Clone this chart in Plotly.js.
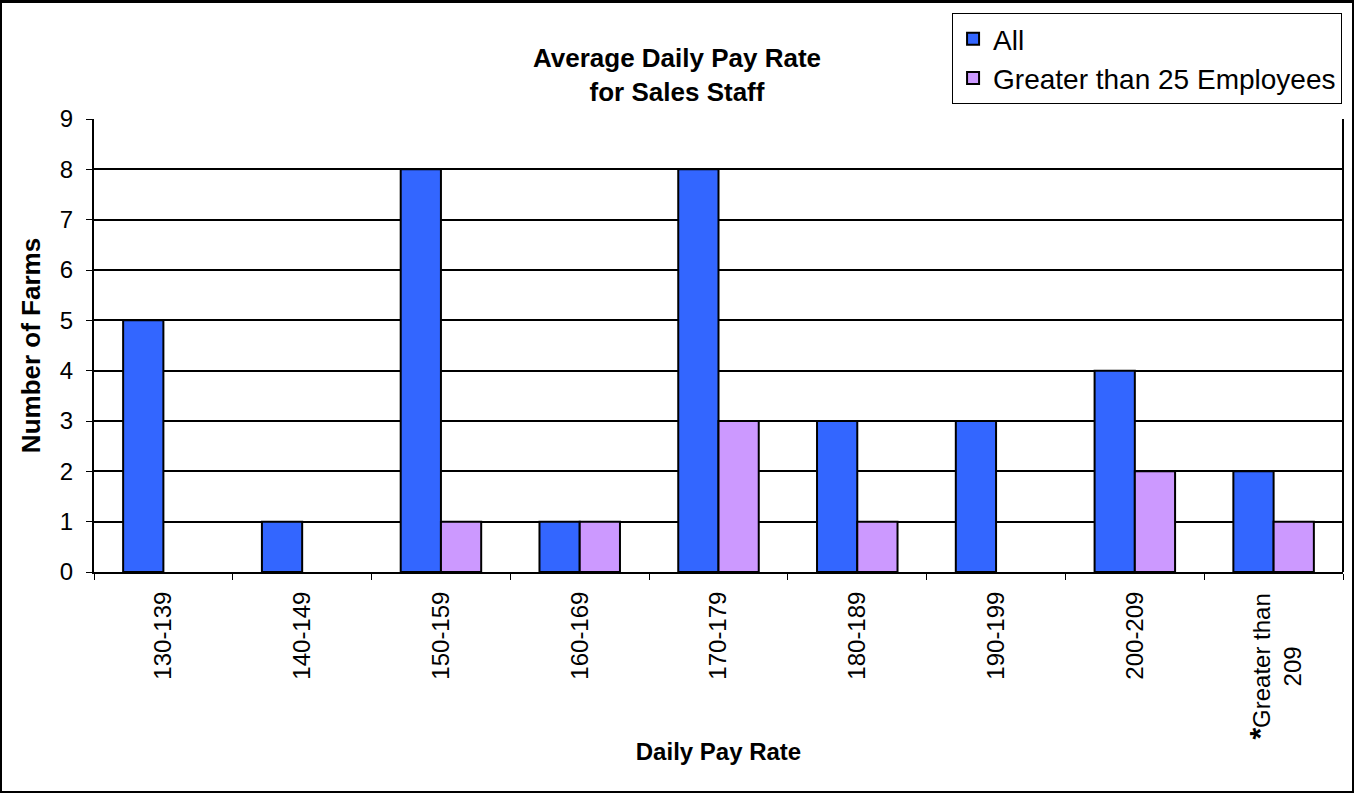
<!DOCTYPE html>
<html>
<head>
<meta charset="utf-8">
<script src="https://cdn.plot.ly/plotly-3.0.1.min.js"></script>
<style>
html,body{margin:0;padding:0;background:#fff;}
#chart{width:1354px;height:793px;box-sizing:border-box;border:2px solid #000;border-top-width:3px;}
</style>
</head>
<body>
<div id="chart"></div>
<script>
const categories = ["130-139","140-149","150-159","160-169","170-179","180-189","190-199","200-209","Greater than 209"];
const tickLabels = ["130-139","140-149","150-159","160-169","170-179","180-189","190-199","200-209","<span style='font-size:30px'><b>*</b></span>Greater than<br>209"];
const allFarms = [5,1,8,1,8,3,3,4,2];
const largeFarms = [0,0,1,1,3,1,0,2,1];
const seriesNames = ["All","Greater than 25 Employees"];

const font = "Arial, 'Liberation Sans', sans-serif";
const last = categories.length - 1;
const data = [
  {type:"bar", name:seriesNames[0], x:categories, y:allFarms,
   marker:{color:"#3366FF", line:{color:"#000", width:2}}},
  {type:"bar", name:seriesNames[1], x:categories, y:largeFarms.map(v=>v===0?null:v),
   marker:{color:"#CC99FF", line:{color:"#000", width:2}}}
];
const layout = {
  width:1350, height:788,
  margin:{l:92, r:9, t:116, b:219},
  paper_bgcolor:"#fff", plot_bgcolor:"#fff",
  font:{family:font, color:"#000", size:24},
  barmode:"group", bargap:0.42, bargroupgap:0,
  title:{text:"<b>Average Daily Pay Rate<br>for Sales Staff</b>", font:{size:26, family:font},
         x:0.5, xref:"container", y:1-64/788, yref:"container", yanchor:"middle"},
  xaxis:{type:"category", tickangle:-90, tickson:"boundaries", ticks:"outside", ticklen:6,
         tickcolor:"#000", showline:true, linecolor:"#000", linewidth:2, showgrid:false,
         tickvals:categories, ticktext:tickLabels.map((t,i)=>i===last?" ":t),
         tickfont:{size:24, family:font}, ticklabelstandoff:8,
         title:{text:"<b>Daily Pay Rate</b>", font:{size:24, family:font}, standoff:65}},
  yaxis:{range:[0,9], dtick:1, ticks:"outside", ticklen:6, tickcolor:"#000",
         showline:true, linecolor:"#000", linewidth:2, mirror:false,
         showgrid:true, gridcolor:"#000", gridwidth:2, zeroline:false,
         tickfont:{size:24, family:font}, ticklabelstandoff:8,
         title:{text:"<b>Number of Farms</b>", font:{size:26, family:font}, standoff:12}},
  legend:{x:0.687, y:1.234, xanchor:"left", yanchor:"top", bordercolor:"#000", borderwidth:1,
          bgcolor:"#fff", font:{size:28, family:font}, tracegroupgap:0},
  annotations:[{xref:"x", yref:"paper", x:categories[last], y:0, yshift:-20,
                xanchor:"center", yanchor:"top", textangle:-90, align:"center", showarrow:false,
                text:tickLabels[last], font:{size:24, family:font, color:"#000"}}],
  shapes:[{type:"line", xref:"paper", yref:"paper", x0:1, x1:1, y0:0, y1:1, line:{color:"#000", width:2}}]
};
Plotly.newPlot("chart", data, layout, {displayModeBar:false});
</script>
</body>
</html>
